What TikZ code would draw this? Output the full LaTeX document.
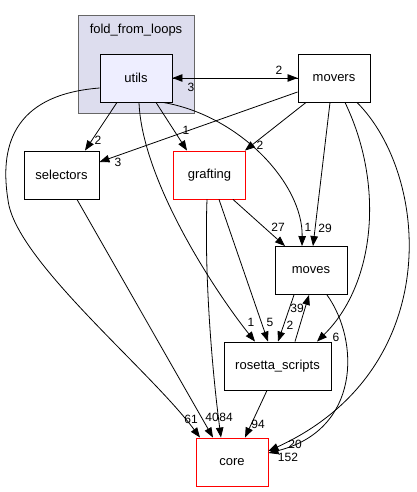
\documentclass[tikz,border=0pt]{standalone}
\usepackage{fontspec}
\setmainfont{Liberation Sans}
\usetikzlibrary{arrows.meta}
\definecolor{clusterfill}{HTML}{DDDDEE}
\definecolor{clusterdraw}{HTML}{666666}
\definecolor{nodefill}{HTML}{EEEEFF}

\begin{document}
\begin{tikzpicture}[x=1pt, y=-1pt,
    dir/.style={draw, line width=0.9pt, minimum width=72pt, minimum height=48pt, inner sep=0pt, font=\fontsize{13}{15}\selectfont},
    reddir/.style={dir, draw=red},
    dep/.style={-{Triangle[length=10pt, width=7.5pt]}, line width=0.8pt},
    lbl/.style={inner sep=0pt, font=\fontsize{12}{14}\selectfont},
]
  \useasboundingbox (0, 0) rectangle (417, 492);

  % === fold_from_loops cluster ===
  \draw[clusterdraw, line width=0.9pt, fill=clusterfill] (78, 15) rectangle (194, 113);
  \node[font=\fontsize{13}{15}\selectfont] (cluster) at (136, 30) {fold\_from\_loops};
  \node[dir, fill=nodefill] (utils) at (136, 78) {utils};

  % === Directories ===
  \node[dir] (movers) at (334, 78) {movers};
  \node[dir, minimum width=75pt] (selectors) at (61.5, 175) {selectors};
  \node[reddir] (grafting) at (209.5, 175) {grafting};
  \node[dir] (moves) at (311, 270.5) {moves};
  \node[dir, minimum width=107pt] (rosetta) at (277.5, 366) {rosetta\_scripts};
  \node[reddir] (core) at (232, 462) {core};

  % === Edges from utils ===
  \draw[dep] (utils) -- (movers);
  \draw[dep] (movers) -- (utils);
  \draw[dep] ([xshift=-19pt]utils.south) -- ([xshift=23.5pt]selectors.north);
  \draw[dep] ([xshift=20pt]utils.south) -- ([xshift=-22.5pt]grafting.north);
  \draw[dep] ([xshift=27pt]utils.south) .. controls +(77, 13) and +(1, -62) .. ([xshift=-9pt]moves.north);
  \draw[dep] ([xshift=3pt]utils.south) .. controls +(3, 78) and +(-40, -50) .. ([xshift=-22.5pt]rosetta.north);
  \draw[dep] ([yshift=-10pt]utils.west) .. controls (10, 95) and (0, 150) .. (8, 200)
    .. controls (15, 260) and (150, 370) .. ([xshift=-32pt]core.north);

  % === Edges from movers ===
  \draw[dep] ([yshift=-14pt]movers.west) -- ([yshift=13pt]selectors.east);
  \draw[dep] ([xshift=-28pt]movers.south) -- ([xshift=-1pt]grafting.north east);
  \draw[dep] ([xshift=-4pt]movers.south) -- ([xshift=2pt]moves.north);
  \draw[dep] ([xshift=11pt]movers.south) .. controls +(40, 83) and +(58, -57) .. ([xshift=39.5pt]rosetta.north);
  \draw[dep] ([xshift=23pt]movers.south) .. controls +(73, 73) and +(177, -81) .. ([yshift=11pt]core.east);

  % === Remaining edges ===
  \draw[dep] ([xshift=15.5pt]selectors.south) -- ([xshift=-19pt]core.north);
  \draw[dep] ([xshift=-2.5pt]grafting.south) .. controls +(-3, 80) and +(-8, -60) .. ([xshift=-11pt]core.north);
  \draw[dep] ([xshift=9.5pt]grafting.south) -- ([xshift=-9.5pt]rosetta.north);
  \draw[dep] ([xshift=23.5pt]grafting.south) -- ([xshift=-26pt]moves.north);
  \draw[dep] ([xshift=-17pt]moves.south) -- ([xshift=0.5pt]rosetta.north);
  \draw[dep] ([xshift=17.5pt]rosetta.north) -- ([xshift=-2pt]moves.south);
  \draw[dep] ([xshift=16pt]moves.south) .. controls +(33, 46) and +(92, -23) .. ([yshift=9pt]core.east);
  \draw[dep] ([xshift=-10.5pt]rosetta.south) -- ([xshift=13pt]core.north);

  % === Edge labels ===
  \node[lbl] (l-um) at (279, 70) {2};
  \node[lbl] (l-mu) at (191, 87) {3};
  \node[lbl] (l-us) at (98, 140) {2};
  \node[lbl] (l-ug) at (186, 130) {1};
  \node[lbl] (l-ms) at (118, 162) {3};
  \node[lbl] (l-mg) at (260, 145) {2};
  \node[lbl] (l-gm) at (278, 227) {27};
  \node[lbl] (l-umv) at (308, 227) {1};
  \node[lbl] (l-mmv) at (325, 228) {29};
  \node[lbl] (l-ur) at (251, 322) {1};
  \node[lbl] (l-gr) at (270, 322) {5};
  \node[lbl] (l-mvr) at (290, 325) {2};
  \node[lbl] (l-rmv) at (297, 308) {39};
  \node[lbl] (l-mr) at (336, 337) {6};
  \node[lbl] (l-uc) at (191, 419) {61};
  \node[lbl] (l-sc) at (212, 417) {40};
  \node[lbl] (l-gc) at (226, 417) {84};
  \node[lbl] (l-rc) at (258, 424) {94};
  \node[lbl] (l-mvc) at (295, 444) {20};
  \node[lbl] (l-mc) at (288, 457) {152};
\end{tikzpicture}
\end{document}
